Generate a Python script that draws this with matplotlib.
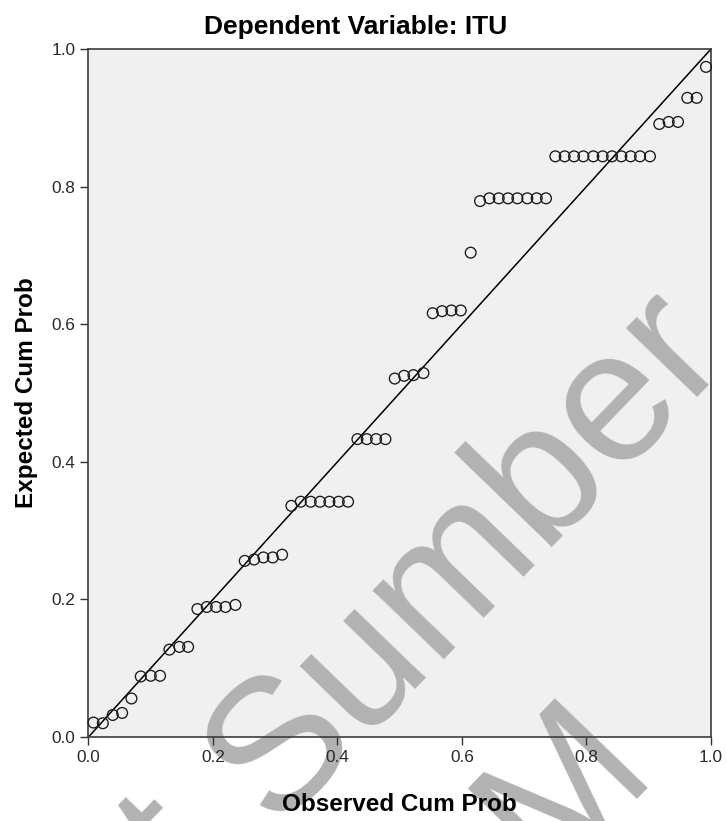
import matplotlib
matplotlib.use("Agg")
import matplotlib.pyplot as plt

# P-P plot of regression standardized residual, dependent variable ITU
observed_cum_prob = [0.008, 0.023, 0.039, 0.054, 0.069,
                     0.084, 0.100, 0.115,
                     0.130, 0.146, 0.160,
                     0.175, 0.190, 0.205, 0.220, 0.236,
                     0.251, 0.266, 0.281, 0.296, 0.311,
                     0.326, 0.341, 0.357, 0.372, 0.387, 0.402, 0.417,
                     0.432, 0.447, 0.462, 0.477,
                     0.492, 0.507, 0.522, 0.538,
                     0.553, 0.568, 0.583, 0.598,
                     0.614,
                     0.629, 0.644, 0.659, 0.674, 0.689, 0.705, 0.720, 0.735,
                     0.750, 0.765, 0.780, 0.795, 0.811, 0.826, 0.841, 0.856, 0.871, 0.886, 0.902,
                     0.917, 0.932, 0.947,
                     0.962, 0.977,
                     0.992]
expected_cum_prob = [0.021, 0.020, 0.032, 0.035, 0.056,
                     0.088, 0.089, 0.089,
                     0.127, 0.131, 0.131,
                     0.186, 0.189, 0.189, 0.189, 0.192,
                     0.256, 0.258, 0.261, 0.261, 0.265,
                     0.336, 0.342, 0.342, 0.342, 0.342, 0.342, 0.342,
                     0.433, 0.433, 0.433, 0.433,
                     0.521, 0.525, 0.526, 0.529,
                     0.616, 0.619, 0.620, 0.620,
                     0.704,
                     0.779, 0.783, 0.783, 0.783, 0.783, 0.783, 0.783, 0.783,
                     0.844, 0.844, 0.844, 0.844, 0.844, 0.844, 0.844, 0.844, 0.844, 0.844, 0.844,
                     0.891, 0.894, 0.894,
                     0.929, 0.929,
                     0.974]
tick_values = [0.0, 0.2, 0.4, 0.6, 0.8, 1.0]
tick_labels = ["0.0", "0.2", "0.4", "0.6", "0.8", "1.0"]

plt.rcParams['font.family'] = ['Liberation Sans', 'DejaVu Sans']

fig = plt.figure(figsize=(7.26, 8.21), dpi=100)
ax = fig.add_axes([0.1219, 0.1023, 0.8574, 0.838])
ax.set_facecolor('#f0f0f0')

ax.plot([0, 1], [0, 1], color='black', lw=1.1, zorder=2)
ax.scatter(observed_cum_prob, expected_cum_prob, s=60, facecolor='none',
           edgecolor='#1a1a1a', linewidth=0.95, zorder=3, clip_on=False)

ax.set_xlim(0, 1)
ax.set_ylim(0, 1)
ax.set_xticks(tick_values)
ax.set_xticklabels(tick_labels)
ax.set_yticks(tick_values)
ax.set_yticklabels(tick_labels)
ax.tick_params(direction='out', length=5.8, width=1.0, color='#333333',
               labelsize=12.4, labelcolor='#2a2a2a', pad=3.5)
for sp in ax.spines.values():
    sp.set_color('#3c3c3c')
    sp.set_linewidth(1.2)

ax.set_xlabel('Observed Cum Prob', fontsize=17.5, fontweight='bold', labelpad=20)
ax.set_ylabel('Expected Cum Prob', fontsize=17.5, fontweight='bold', labelpad=10)
fig.text(0.49, 0.967, 'Dependent Variable: ITU', fontsize=19, fontweight='bold',
         ha='center', va='center', transform=fig.transFigure)

# watermark (sits above the plot background, below the marks)
wm = '#b2b2b2'
ax.text(0.643, 0.322, 'Sumber', transform=fig.transFigure, rotation=46,
        rotation_mode='anchor', ha='center', va='center', fontsize=135,
        color=wm, zorder=0.5, clip_on=False)
ax.text(0.778, 0.040, 'M', transform=fig.transFigure, rotation=46,
        rotation_mode='anchor', ha='center', va='center', fontsize=135,
        color=wm, zorder=0.5, clip_on=False)
ax.text(0.24, -0.035, 't', transform=fig.transFigure, rotation=46,
        rotation_mode='anchor', ha='center', va='center', fontsize=135,
        color=wm, zorder=0.5, clip_on=False)

fig.savefig('out.png', dpi=100)
